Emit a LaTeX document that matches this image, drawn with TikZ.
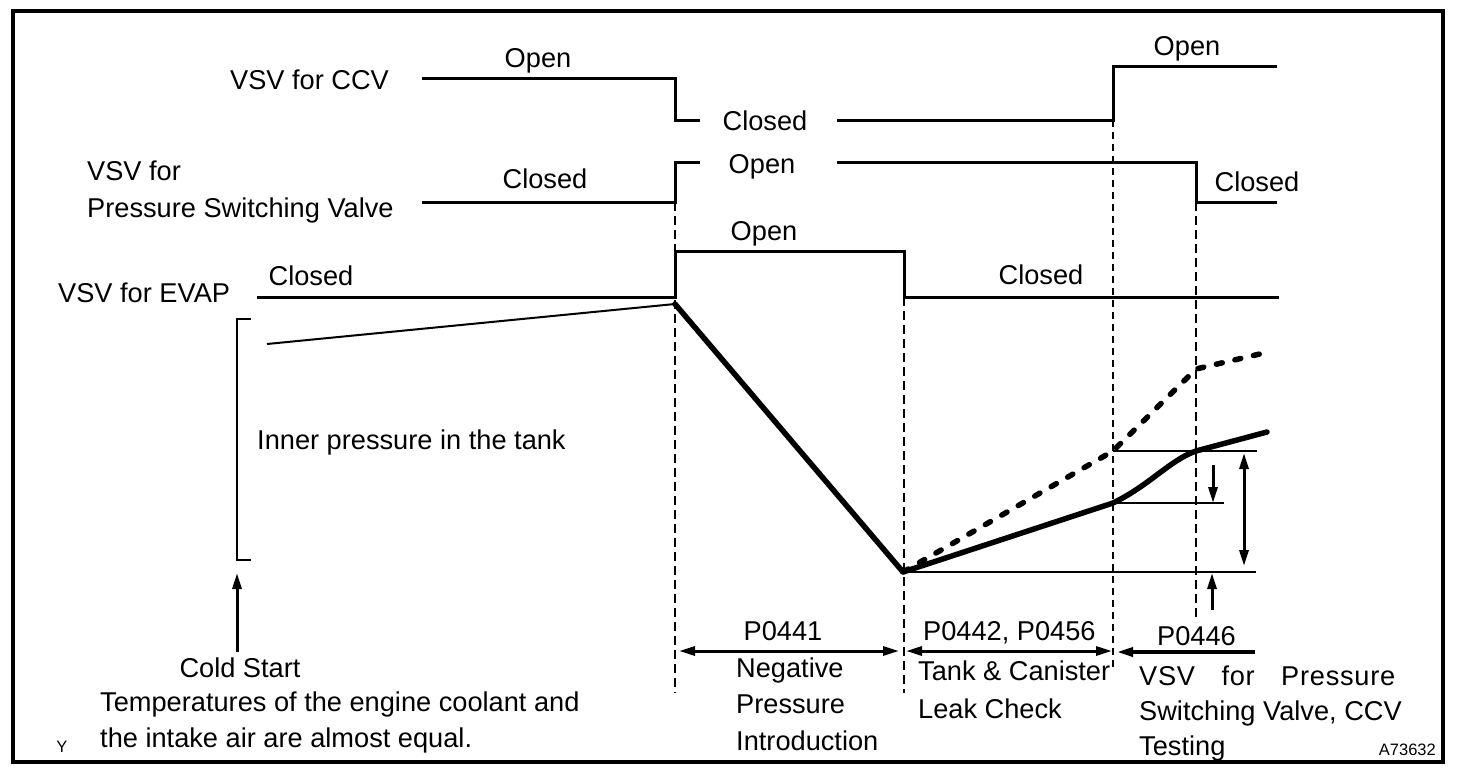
\documentclass[tikz,border=0pt]{standalone}
\usepackage{fontspec}
\setmainfont{Liberation Sans}
\usetikzlibrary{arrows.meta}
\begin{document}
\begin{tikzpicture}[x=1pt,y=-1pt,
  txt/.style={font=\fontsize{27.2}{33}\selectfont, inner sep=0pt},
  small/.style={font=\fontsize{16.5}{20}\selectfont, inner sep=0pt},
  sig/.style={line width=3pt},
  guide/.style={line width=2pt, dash pattern=on 9pt off 5pt},
  guidethin/.style={line width=1.3pt, dash pattern=on 7pt off 5pt},
  refline/.style={line width=2pt},
  curve/.style={line width=5.5pt, line join=round, line cap=round},
  curvedash/.style={curve, dash pattern=on 6pt off 13pt},
  arr/.style={line width=3pt, -{Triangle[length=16pt,width=9pt]}},
  darr/.style={line width=3pt, {Triangle[length=16pt,width=9pt]}-{Triangle[length=16pt,width=9pt]}},
]
\useasboundingbox (0,0) rectangle (1472,774);
\fill[white] (0,0) rectangle (1472,774);
\draw[line width=3.5pt] (13,11) rectangle (1443,762);

% ---------- labels ----------
\node[txt, anchor=base west] (ccv) at (230,89) {VSV for CCV};
\node[txt, anchor=base] (ccvopen) at (538,67) {Open};
\node[txt, anchor=base] (ccvclosed) at (765,130) {Closed};
\node[txt, anchor=base] (ccvopen2) at (1187,55) {Open};
\node[txt, anchor=base west] (psv1) at (87,180) {VSV for};
\node[txt, anchor=base west] (psv2) at (87,217) {Pressure Switching Valve};
\node[txt, anchor=base] (psvclosed) at (545,188) {Closed};
\node[txt, anchor=base] (psvopen) at (762,173) {Open};
\node[txt, anchor=base] (psvclosed2) at (1257,191) {Closed};
\node[txt, anchor=base west] (evap) at (58,302) {VSV for EVAP};
\node[txt, anchor=base] (evapclosed) at (311,285) {Closed};
\node[txt, anchor=base] (evapopen) at (764,240) {Open};
\node[txt, anchor=base] (evapclosed2) at (1041,284) {Closed};
\node[txt, anchor=base west] (inner) at (257,449) {Inner pressure in the tank};

\node[txt, anchor=base] (p0441) at (783,640) {P0441};
\node[txt, anchor=base west] (neg1) at (736,677) {Negative};
\node[txt, anchor=base west] (neg2) at (736,713) {Pressure};
\node[txt, anchor=base west] (neg3) at (736,750) {Introduction};
\node[txt, anchor=base west] (p0442) at (923,640) {P0442, P0456};
\node[txt, anchor=base west] (tank1) at (918,680) {Tank \& Canister};
\node[txt, anchor=base west] (tank2) at (918,718) {Leak Check};
\node[txt, anchor=base west] (p0446) at (1157,645) {P0446};
\node[txt, anchor=base west] (vsvt1) at (1139,685) {\makebox[256pt][s]{\addfontfeatures{LetterSpace=2.7}VSV\hfill for\hfill Pressure}};
\node[txt, anchor=base west] (vsvt2) at (1139,720) {Switching Valve, CCV};
\node[txt, anchor=base west] (vsvt3) at (1139,755) {Testing};
\node[txt, anchor=base] (cold) at (240,677) {Cold Start};
\node[txt, anchor=base west] (temp1) at (100,711) {Temperatures of the engine coolant and};
\node[txt, anchor=base west] (temp2) at (100,747) {the intake air are almost equal.};
\node[small, anchor=base] (ymark) at (62,752) {Y};
\node[small, anchor=base east] (code) at (1436,755) {A73632};

% ---------- signal lines ----------
\draw[sig] (422,78) -- (675,78) -- (675,120) -- (700,120);
\draw[sig] (837,120) -- (1113,120) -- (1113,66) -- (1277,66);
\draw[sig] (422,202) -- (675,202) -- (675,162) -- (700,162);
\draw[sig] (837,162) -- (1196,162) -- (1196,202) -- (1277,202);
\draw[sig] (257,297) -- (675,297) -- (675,251) -- (904,251) -- (904,297) -- (1279,297);

% ---------- guides ----------
\draw[guide] (675,202) -- (675,693);
\draw[guide] (904,297) -- (904,693);
\draw[guidethin] (1113,120) -- (1113,670);
\draw[guide] (1196,202) -- (1196,622);

% ---------- bracket ----------
\draw[refline] (251,319) -- (237,319) -- (237,560) -- (251,560);

% ---------- pressure curves ----------
\coordinate (c0) at (267,344);
\coordinate (c1) at (675,304);
\coordinate (c2) at (903,572);
\coordinate (s1) at (1113,503);
\coordinate (s2) at (1196,451);
\coordinate (s3) at (1267,432);
\coordinate (d1) at (1113,451);
\coordinate (d2) at (1196,369);
\coordinate (d3) at (1264,353);
\draw[refline] (c0) -- (c1);
\draw[curve] (c1) -- (c2) -- (s1) .. controls (1150,485) and (1170,460) .. (s2) -- (s3);
\draw[curvedash] (c2) -- (d1) -- (d2) -- (d3);

% ---------- reference levels ----------
\draw[refline] (1113,451) -- (1257,451);
\draw[refline] (1113,503) -- (1224,503);
\draw[refline] (903,572) -- (1256,572);

% ---------- arrows ----------
\coordinate (a1s) at (1213,465); \coordinate (a1e) at (1213,503);
\draw[arr] (a1s) -- (a1e);
\coordinate (a2s) at (1244,453); \coordinate (a2e) at (1244,566);
\draw[darr] (a2s) -- (a2e);
\coordinate (a3s) at (1212,610); \coordinate (a3e) at (1212,573);
\draw[arr] (a3s) -- (a3e);

\coordinate (b1s) at (679,651); \coordinate (b1e) at (899,651);
\draw[darr] (b1s) -- (b1e);
\coordinate (b2s) at (906,651); \coordinate (b2e) at (1112,651);
\draw[darr] (b2s) -- (b2e);
\coordinate (b3s) at (1255,652); \coordinate (b3e) at (1117,652);
\draw[arr, line width=3.5pt] (b3s) -- (b3e);

\coordinate (cs) at (237,652); \coordinate (ce) at (237,573);
\draw[arr] (cs) -- (ce);
\end{tikzpicture}
\end{document}
